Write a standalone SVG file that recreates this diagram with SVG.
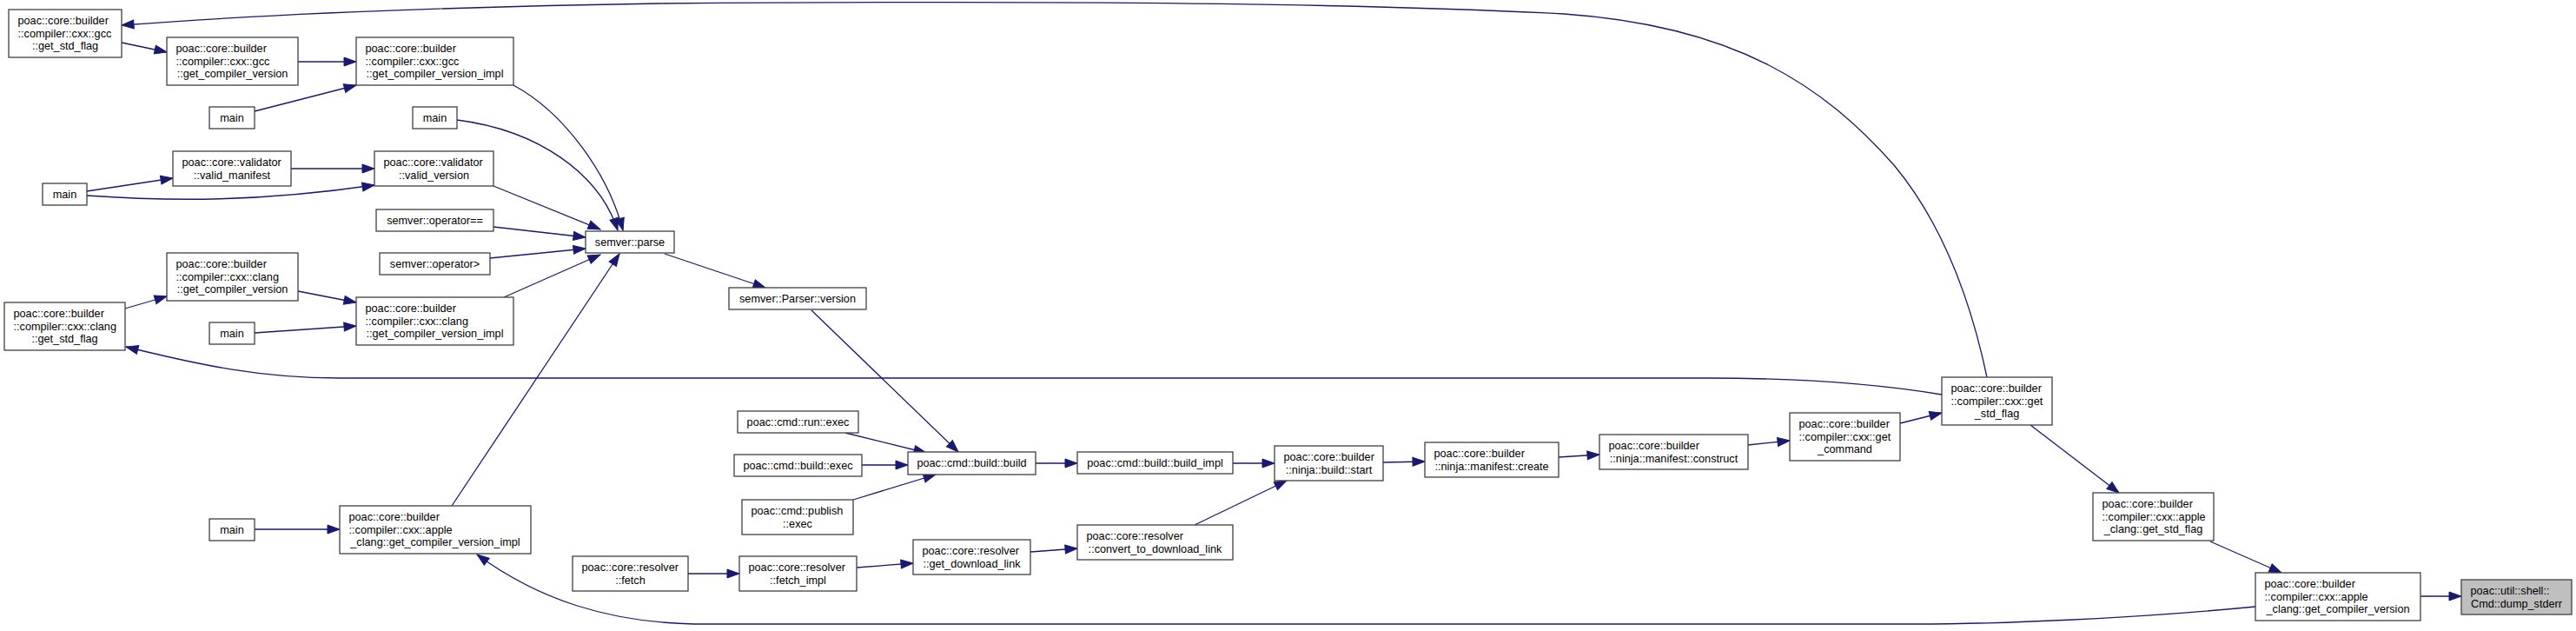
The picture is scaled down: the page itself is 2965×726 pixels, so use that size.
<svg xmlns="http://www.w3.org/2000/svg" width="2965" height="726" viewBox="0 0 2965 726">
<style>
.node rect{fill:#ffffff;stroke:#404040;stroke-width:1.3}
.root rect{fill:#bfbfbf}
text{font-family:"Liberation Sans",Arial,Helvetica,sans-serif;font-size:12.7px;fill:#000}
.m{text-anchor:middle}
.edge path{fill:none;stroke:#191970;stroke-width:1.3;marker-end:url(#arr)}
</style>
<defs>
<marker id="arr" markerUnits="userSpaceOnUse" markerWidth="15" markerHeight="11" refX="14" refY="5" orient="auto" overflow="visible">
<path d="M0,0 L14,5 L0,10 z" fill="#191970" stroke="#191970" stroke-width="1"/>
</marker>
</defs>
<rect x="0" y="0" width="2965" height="726" fill="#ffffff"/>
<g id="connectors" class="edge">
<path d="M2287,434 C2265,330 2230,250 2180,190 C2100,100 2000,30 1800,16 C1500,0 1000,2 760,4 C500,8 300,17 140,29"/>
<path d="M2235,454 C2150,440 2060,435 1965,435 L390,435 C300,435 230,420 145,399"/>
<path d="M2187,487 L2235,475"/>
<path d="M2337,489 L2439,567"/>
<path d="M2544,623 L2626,659"/>
<path d="M2786,686 L2833,686"/>
<path d="M2596,698 C2450,712 2300,718 2200,718 L800,718 C700,716 620,690 549,638"/>
<path d="M1419,533 L1467,533"/>
<path d="M1375,604 L1481,553"/>
<path d="M1592,532 L1640,531"/>
<path d="M1794,526 L1841,523"/>
<path d="M2012,512 L2060,507"/>
<path d="M1192,533 L1240,533"/>
<path d="M973,498 L1066,521"/>
<path d="M992,535 L1045,535"/>
<path d="M982,575 L1077,546"/>
<path d="M934,357 L1103,520"/>
<path d="M765,292 L881,331"/>
<path d="M792,660 L851,660"/>
<path d="M986,653 L1051,648"/>
<path d="M1186,635 L1240,631"/>
<path d="M293,609 L391,609"/>
<path d="M520,582 L713,292"/>
<path d="M580,342 L691,293"/>
<path d="M564,297 L674,286"/>
<path d="M568,261 L674,273"/>
<path d="M568,214 L691,264"/>
<path d="M526,138 C620,150 690,200 711,265"/>
<path d="M591,98 C650,130 700,200 717,265"/>
<path d="M140,49 L192,60"/>
<path d="M343,71 L410,71"/>
<path d="M293,128 L410,98"/>
<path d="M335,194 L431,194"/>
<path d="M100,220 L199,205"/>
<path d="M100,225 C200,232 300,232 431,213"/>
<path d="M144,355 L192,341"/>
<path d="M343,335 L410,348"/>
<path d="M293,383 L410,375"/>
</g>
<g id="n1" class="node"><rect x="10" y="11" width="130" height="55"/><text x="20.5" y="28.3">poac::core::builder</text><text x="20.5" y="42.8">::compiler::cxx::gcc</text><text class="m" x="75" y="57.3">::get_std_flag</text></g>
<g id="n2" class="node"><rect x="192" y="43" width="151" height="55"/><text x="202.5" y="60.3">poac::core::builder</text><text x="202.5" y="74.8">::compiler::cxx::gcc</text><text class="m" x="267.5" y="89.3">::get_compiler_version</text></g>
<g id="n3" class="node"><rect x="410" y="43" width="181" height="55"/><text x="420.5" y="60.3">poac::core::builder</text><text x="420.5" y="74.8">::compiler::cxx::gcc</text><text class="m" x="500.5" y="89.3">::get_compiler_version_impl</text></g>
<g id="n4" class="node"><rect x="241" y="123" width="52" height="25"/><text class="m" x="267" y="139.8">main</text></g>
<g id="n5" class="node"><rect x="475" y="123" width="51" height="25"/><text class="m" x="500.5" y="139.8">main</text></g>
<g id="n6" class="node"><rect x="199" y="174" width="136" height="40"/><text x="209.5" y="191.05">poac::core::validator</text><text class="m" x="267" y="205.55">::valid_manifest</text></g>
<g id="n7" class="node"><rect x="431" y="174" width="137" height="40"/><text x="441.5" y="191.05">poac::core::validator</text><text class="m" x="499.5" y="205.55">::valid_version</text></g>
<g id="n8" class="node"><rect x="49" y="211" width="51" height="25"/><text class="m" x="74.5" y="227.8">main</text></g>
<g id="n9" class="node"><rect x="433" y="241" width="135" height="25"/><text class="m" x="500.5" y="257.8">semver::operator==</text></g>
<g id="n10" class="node"><rect x="437" y="291" width="127" height="25"/><text class="m" x="500.5" y="307.8">semver::operator&gt;</text></g>
<g id="n11" class="node"><rect x="674" y="266" width="102" height="25"/><text class="m" x="725" y="282.8">semver::parse</text></g>
<g id="n12" class="node"><rect x="192" y="291" width="151" height="55"/><text x="202.5" y="308.3">poac::core::builder</text><text x="202.5" y="322.8">::compiler::cxx::clang</text><text class="m" x="267.5" y="337.3">::get_compiler_version</text></g>
<g id="n13" class="node"><rect x="5" y="348" width="139" height="55"/><text x="15.5" y="365.3">poac::core::builder</text><text x="15.5" y="379.8">::compiler::cxx::clang</text><text class="m" x="74.5" y="394.3">::get_std_flag</text></g>
<g id="n14" class="node"><rect x="410" y="342" width="181" height="55"/><text x="420.5" y="359.3">poac::core::builder</text><text x="420.5" y="373.8">::compiler::cxx::clang</text><text class="m" x="500.5" y="388.3">::get_compiler_version_impl</text></g>
<g id="n15" class="node"><rect x="241" y="371" width="52" height="25"/><text class="m" x="267" y="387.8">main</text></g>
<g id="n16" class="node"><rect x="839" y="331" width="158" height="25"/><text class="m" x="918" y="347.8">semver::Parser::version</text></g>
<g id="n17" class="node"><rect x="241" y="597" width="52" height="25"/><text class="m" x="267" y="613.8">main</text></g>
<g id="n18" class="node"><rect x="391" y="582" width="220" height="55"/><text x="401.5" y="599.3">poac::core::builder</text><text x="401.5" y="613.8">::compiler::cxx::apple</text><text class="m" x="501" y="628.3">_clang::get_compiler_version_impl</text></g>
<g id="n19" class="node"><rect x="659" y="640" width="133" height="40"/><text x="669.5" y="657.05">poac::core::resolver</text><text class="m" x="725.5" y="671.55">::fetch</text></g>
<g id="n20" class="node"><rect x="849" y="473" width="139" height="25"/><text class="m" x="918.5" y="489.8">poac::cmd::run::exec</text></g>
<g id="n21" class="node"><rect x="845" y="523" width="147" height="25"/><text class="m" x="918.5" y="539.8">poac::cmd::build::exec</text></g>
<g id="n22" class="node"><rect x="854" y="575" width="128" height="40"/><text x="864.5" y="592.05">poac::cmd::publish</text><text class="m" x="918" y="606.55">::exec</text></g>
<g id="n23" class="node"><rect x="1045" y="520" width="147" height="26"/><text class="m" x="1118.5" y="537.3">poac::cmd::build::build</text></g>
<g id="n24" class="node"><rect x="1240" y="520" width="179" height="25"/><text class="m" x="1329.5" y="536.8">poac::cmd::build::build_impl</text></g>
<g id="n25" class="node"><rect x="851" y="640" width="135" height="40"/><text x="861.5" y="657.05">poac::core::resolver</text><text class="m" x="918.5" y="671.55">::fetch_impl</text></g>
<g id="n26" class="node"><rect x="1051" y="621" width="135" height="40"/><text x="1061.5" y="638.05">poac::core::resolver</text><text class="m" x="1118.5" y="652.55">::get_download_link</text></g>
<g id="n27" class="node"><rect x="1240" y="604" width="179" height="40"/><text x="1250.5" y="621.05">poac::core::resolver</text><text class="m" x="1329.5" y="635.55">::convert_to_download_link</text></g>
<g id="n28" class="node"><rect x="1467" y="513" width="125" height="40"/><text x="1477.5" y="530.05">poac::core::builder</text><text class="m" x="1529.5" y="544.55">::ninja::build::start</text></g>
<g id="n29" class="node"><rect x="1640" y="509" width="154" height="40"/><text x="1650.5" y="526.05">poac::core::builder</text><text class="m" x="1717" y="540.55">::ninja::manifest::create</text></g>
<g id="n30" class="node"><rect x="1841" y="500" width="171" height="40"/><text x="1851.5" y="517.05">poac::core::builder</text><text class="m" x="1926.5" y="531.55">::ninja::manifest::construct</text></g>
<g id="n31" class="node"><rect x="2060" y="475" width="127" height="55"/><text x="2070.5" y="492.3">poac::core::builder</text><text x="2070.5" y="506.8">::compiler::cxx::get</text><text class="m" x="2123.5" y="521.3">_command</text></g>
<g id="n32" class="node"><rect x="2235" y="434" width="127" height="55"/><text x="2245.5" y="451.3">poac::core::builder</text><text x="2245.5" y="465.8">::compiler::cxx::get</text><text class="m" x="2298.5" y="480.3">_std_flag</text></g>
<g id="n33" class="node"><rect x="2409" y="567" width="139" height="55"/><text x="2419.5" y="584.3">poac::core::builder</text><text x="2419.5" y="598.8">::compiler::cxx::apple</text><text class="m" x="2478.5" y="613.3">_clang::get_std_flag</text></g>
<g id="n34" class="node"><rect x="2596" y="659" width="190" height="55"/><text x="2606.5" y="676.3">poac::core::builder</text><text x="2606.5" y="690.8">::compiler::cxx::apple</text><text class="m" x="2691" y="705.3">_clang::get_compiler_version</text></g>
<g id="n35" class="node root"><rect x="2833" y="667" width="127" height="40"/><text x="2843.5" y="684.05">poac::util::shell::</text><text class="m" x="2896.5" y="698.55">Cmd::dump_stderr</text></g>
</svg>
